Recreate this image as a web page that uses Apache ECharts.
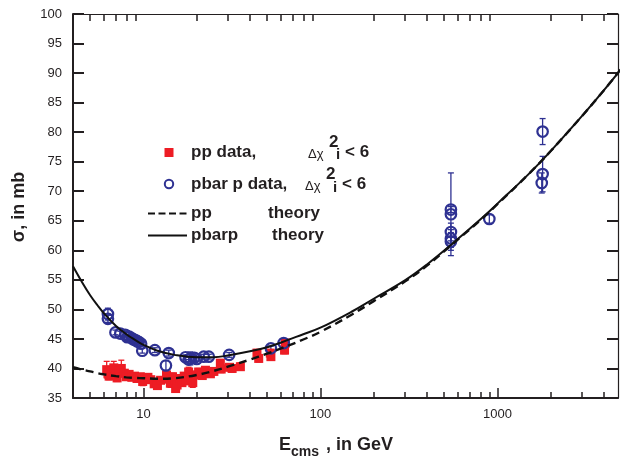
<!DOCTYPE html>
<html>
<head>
<meta charset="utf-8">
<script src="https://cdn.jsdelivr.net/npm/echarts@6/dist/echarts.min.js"></script>
<style>
  html, body { margin: 0; padding: 0; background: #fff; }
  #chart { width: 621px; height: 457px; }
</style>
</head>
<body>
<div id="chart"></div>
<script>
// pp data: energy (GeV), cross section (mb), error (mb)
var ppE = [6.2, 6.3, 6.4, 6.6, 6.8, 7.0, 7.1, 7.3, 7.5, 7.8, 8.0, 8.3, 8.6, 8.9, 9.2, 9.6, 9.9,
  10.2, 10.6, 11.0, 11.5, 12.0, 12.5, 13.5, 13.8, 14.2, 14.6, 15.0, 15.2, 15.5, 16.0, 16.5, 17.0,
  17.5, 18.0, 18.5, 19.0, 19.7, 20.5, 21.5, 22.4, 23.9, 25.0, 27.2, 27.5, 30.6, 31.7, 35.3,
  43.8, 44.8, 52.1, 52.5, 62.7, 63.3];
var ppSigma = [39.8, 39.2, 38.7, 39.5, 40.1, 39.0, 38.4, 39.6, 40.0, 39.2, 38.6, 39.0, 38.5, 38.7, 38.3, 38.6, 37.8,
  38.3, 38.5, 38.1, 37.4, 37.1, 38.0, 38.9, 38.2, 37.5, 38.6, 37.8, 36.6, 37.2, 38.3, 37.6, 38.7,
  37.9, 39.4, 38.4, 37.6, 38.9, 39.4, 38.8, 39.7, 39.1, 39.5, 40.9, 39.9, 40.2, 40.0, 40.3,
  42.6, 41.7, 42.6, 42.0, 43.1, 44.3];
var ppErr = [1.4, 0.8, 0.6, 0.8, 1.1, 0.6, 0.6, 0.8, 1.4, 0.6, 0.5, 0.5, 0.5, 0.5, 0.5, 0.5, 0.7,
  0.5, 0.5, 0.5, 0.6, 0.6, 0.5, 0.6, 0.6, 0.7, 0.6, 0.6, 0.6, 0.8, 0.6, 0.6, 0.6,
  0.6, 0.8, 0.6, 0.8, 0.6, 0.6, 0.6, 0.6, 0.6, 0.6, 0.6, 0.6, 0.6, 0.6, 0.6,
  0.6, 0.6, 0.6, 0.6, 0.6, 0.6];

// pbar p data
var pbarE = [6.3, 6.3, 6.95, 7.4, 7.9, 8.1, 8.3, 8.6, 8.8, 9.0, 9.2, 9.4, 9.7, 9.85, 11.6, 13.4, 13.9,
  17.3, 18.0, 18.4, 19.4, 20.0, 21.9, 23.4, 30.5, 52.5, 62.0,
  546, 546, 546, 546, 546, 900, 1780, 1800, 1800];
var pbarSigma = [49.2, 48.4, 46.1, 45.9, 45.7, 45.3, 45.4, 45.1, 44.9, 44.8, 44.6, 44.5, 44.2, 43.0, 43.1, 40.5, 42.6,
  41.9, 41.5, 41.7, 41.8, 41.6, 42.0, 42.0, 42.3, 43.4, 44.3,
  66.9, 66.1, 63.1, 62.0, 61.5, 65.3, 71.4, 72.9, 80.1];
var pbarErr = [1.0, 0.6, 0.4, 0.4, 0.4, 0.4, 0.4, 0.4, 0.4, 0.4, 0.4, 0.4, 0.4, 0.4, 0.4, 0.8, 0.5,
  0.4, 0.4, 1.1, 0.4, 0.4, 0.4, 0.4, 0.4, 0.4, 0.4,
  0.5, 7.0, 1.5, 1.5, 1.5, 0.7, 1.7, 3.0, 2.2];

// theory curves
var theoryE = [4, 4.5, 5, 5.5, 6, 7, 8, 9, 10, 12, 15, 20, 25, 30, 40, 50, 60, 80, 100, 150, 200,
  300, 400, 550, 800, 1000, 1500, 2000, 3000, 4000, 5000];
var ppTheory = [40.2, 39.8, 39.5, 39.2, 39.0, 38.7, 38.5, 38.4, 38.35, 38.25, 38.35, 38.9, 39.6, 40.3, 41.5, 42.5, 43.4, 44.9, 46.2, 49.1, 51.4,
  54.7, 57.4, 60.9, 65.1, 67.8, 72.9, 76.8, 82.7, 87.1, 90.7];
var pbarpTheory = [57.3, 54.6, 52.4, 50.7, 49.3, 47.2, 45.8, 44.8, 44.0, 43.0, 42.3, 41.9, 41.9, 42.2, 42.9, 43.6, 44.4, 45.8, 46.9, 49.6, 51.8,
  54.9, 57.6, 61.0, 65.2, 67.9, 72.9, 76.8, 82.7, 87.1, 90.7];

var xLabelTicks = [10, 100, 1000];
var xMinorTicks = [5, 6, 7, 8, 9, 20, 30, 40, 50, 60, 70, 80, 90, 200, 300, 400, 500, 600, 700, 800, 900, 2000, 3000, 4000];

var ink = '#231f20';
var red = '#ed1c24';
var blue = '#2e3192';
var font = '"Liberation Sans", Arial, sans-serif';

function pairs(xs, ys) {
  return xs.map(function (x, i) { return [x, ys[i]]; });
}
function bars(xs, ys, es) {
  return xs.map(function (x, i) { return [x, ys[i] - es[i], ys[i] + es[i]]; });
}
function errorBar(color) {
  return function (params, api) {
    var lo = api.coord([api.value(0), api.value(1)]);
    var hi = api.coord([api.value(0), api.value(2)]);
    var w = 3;
    var st = { stroke: color, lineWidth: 1.3 };
    return {
      type: 'group',
      children: [
        { type: 'line', shape: { x1: lo[0], y1: lo[1], x2: hi[0], y2: hi[1] }, style: st },
        { type: 'line', shape: { x1: hi[0] - w, y1: hi[1], x2: hi[0] + w, y2: hi[1] }, style: st },
        { type: 'line', shape: { x1: lo[0] - w, y1: lo[1], x2: lo[0] + w, y2: lo[1] }, style: st }
      ]
    };
  };
}
function txt(x, y, s, size, weight) {
  return {
    type: 'text', x: x, y: y, silent: true,
    style: {
      text: s, fill: ink, font: (weight || 'bold') + ' ' + size + 'px ' + font,
      align: 'left', verticalAlign: 'middle', textAlign: 'left', textVerticalAlign: 'middle'
    }
  };
}

var chart = echarts.init(document.getElementById('chart'), null, { renderer: 'canvas' });

var xBase = { type: 'log', logBase: 10, min: 4, max: 4800, splitLine: { show: false } };

chart.setOption({
  animation: false,
  backgroundColor: '#fff',
  grid: { left: 73, right: 3, top: 14, bottom: 59 },
  xAxis: [
    Object.assign({}, xBase, {
      position: 'bottom',
      axisLine: { lineStyle: { color: ink, width: 2 } },
      axisTick: { inside: true, length: 10, customValues: xLabelTicks, lineStyle: { color: ink, width: 1.5 } },
      axisLabel: {
        customValues: xLabelTicks, color: ink, fontSize: 13, fontFamily: font, margin: 10,
        formatter: function (v) { return String(Math.round(v)); }
      }
    }),
    Object.assign({}, xBase, {
      position: 'bottom',
      axisLine: { show: false },
      axisTick: { inside: true, length: 6, customValues: xMinorTicks, lineStyle: { color: ink, width: 1.5 } },
      axisLabel: { show: false }
    }),
    Object.assign({}, xBase, {
      position: 'top',
      axisLine: { lineStyle: { color: ink, width: 1.2 } },
      axisTick: { inside: true, length: 7, customValues: xMinorTicks, lineStyle: { color: ink, width: 1.5 } },
      axisLabel: { show: false }
    })
  ],
  yAxis: [
    {
      type: 'value', min: 35, max: 100, interval: 5, position: 'left',
      splitLine: { show: false },
      axisLine: { show: true, lineStyle: { color: ink, width: 2 } },
      axisTick: { inside: true, length: 11, lineStyle: { color: ink, width: 2 } },
      axisLabel: { color: ink, fontSize: 13, fontFamily: font, margin: 11 }
    },
    {
      type: 'value', min: 35, max: 100, interval: 5, position: 'right',
      splitLine: { show: false },
      axisLine: { show: true, lineStyle: { color: ink, width: 1.2 } },
      axisTick: { inside: true, length: 11, lineStyle: { color: ink, width: 2 } },
      axisLabel: { show: false }
    }
  ],
  series: [
    {
      type: 'custom', name: 'pp err', renderItem: errorBar(red), z: 2,
      encode: { x: 0, y: [1, 2] }, data: bars(ppE, ppSigma, ppErr)
    },
    {
      type: 'scatter', name: 'pp data', symbol: 'rect', symbolSize: 9, z: 3,
      itemStyle: { color: red, opacity: 1 }, data: pairs(ppE, ppSigma)
    },
    {
      type: 'custom', name: 'pbar err', renderItem: errorBar(blue), z: 2,
      encode: { x: 0, y: [1, 2] }, data: bars(pbarE, pbarSigma, pbarErr)
    },
    {
      type: 'scatter', name: 'pbar p data', symbol: 'circle', symbolSize: 10.5, z: 3,
      itemStyle: { color: 'rgba(0,0,0,0)', borderColor: blue, borderWidth: 2.2, opacity: 1 },
      data: pairs(pbarE, pbarSigma)
    },
    {
      type: 'line', name: 'pp theory', smooth: 0.4, symbol: 'none', z: 5,
      lineStyle: { color: '#111', width: 2.4, type: [8, 5] }, data: pairs(theoryE, ppTheory)
    },
    {
      type: 'line', name: 'pbarp theory', smooth: 0.4, symbol: 'none', z: 5,
      lineStyle: { color: '#111', width: 2 }, data: pairs(theoryE, pbarpTheory)
    }
  ],
  graphic: [
    // legend
    { type: 'rect', shape: { x: 164.5, y: 148, width: 9, height: 9 }, style: { fill: red } },
    { type: 'circle', shape: { cx: 169, cy: 184, r: 4.2 }, style: { fill: 'none', stroke: blue, lineWidth: 2 } },
    { type: 'line', shape: { x1: 148, y1: 213.5, x2: 187, y2: 213.5 }, style: { stroke: '#111', lineWidth: 2, lineDash: [7, 3.5] } },
    { type: 'line', shape: { x1: 148, y1: 235.5, x2: 187, y2: 235.5 }, style: { stroke: '#111', lineWidth: 2 } },
    txt(191, 152, 'pp data,', 17),
    txt(308, 154, 'Δχ', 13, 'normal'),
    txt(329, 142, '2', 17),
    txt(336, 155, 'i', 15),
    txt(345, 152, '< 6', 17),
    txt(191, 184.5, 'pbar p data,', 17),
    txt(305, 186.5, 'Δχ', 13, 'normal'),
    txt(326, 174.5, '2', 17),
    txt(333, 187.5, 'i', 15),
    txt(342, 184.5, '< 6', 17),
    txt(191, 213.5, 'pp', 17),
    txt(268, 213.5, 'theory', 17),
    txt(191, 235.5, 'pbarp', 17),
    txt(272, 235.5, 'theory', 17),
    // axis titles
    txt(279, 445, 'E', 18),
    txt(291, 452, 'cms', 14),
    txt(326, 445, ', in GeV', 18),
    {
      type: 'text', x: 19, y: 207, rotation: Math.PI / 2, silent: true,
      style: {
        text: 'σ, in mb', fill: ink, font: 'bold 18px ' + font,
        align: 'center', verticalAlign: 'middle', textAlign: 'center', textVerticalAlign: 'middle'
      }
    }
  ]
});
</script>
</body>
</html>
